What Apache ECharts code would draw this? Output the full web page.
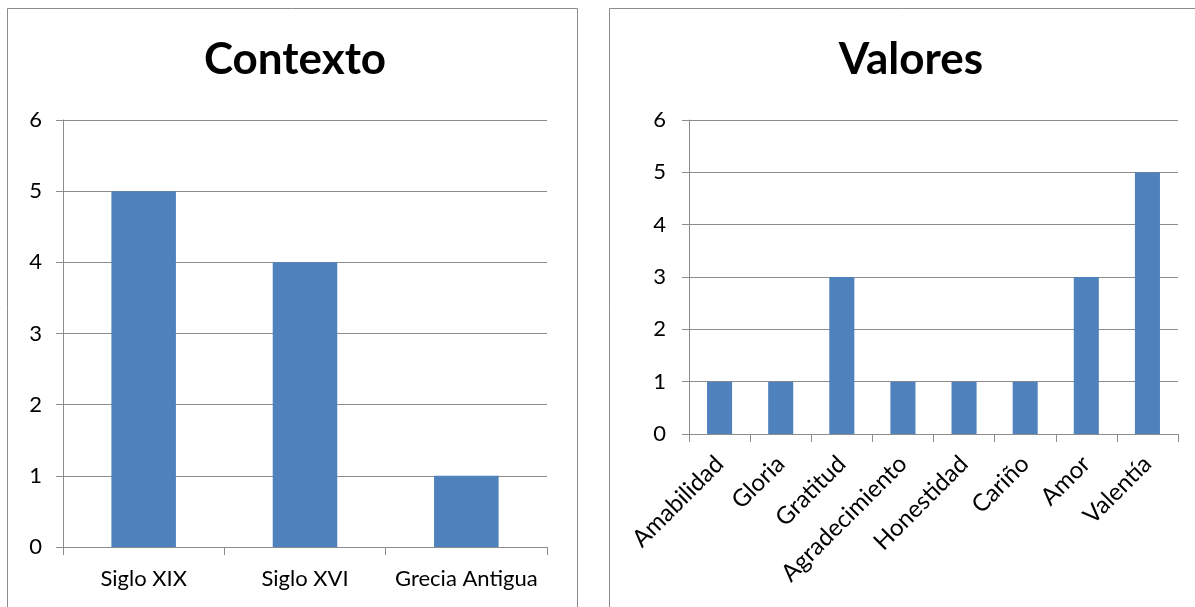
<!DOCTYPE html>
<html>
<head>
<meta charset="utf-8">
<script src="https://cdn.jsdelivr.net/npm/echarts@6/dist/echarts.min.js"></script>
<style>
  html, body { margin: 0; padding: 0; background: #fff; }
  #chart { width: 1195px; height: 607px; }
</style>
</head>
<body>
<div id="chart"></div>
<script>
  // datos del gráfico
  var contextoCategorias = ['Siglo XIX', 'Siglo XVI', 'Grecia Antigua'];
  var contextoValores = [5, 4, 1];
  var valoresCategorias = ['Amabilidad', 'Gloria', 'Gratitud', 'Agradecimiento', 'Honestidad', 'Cariño', 'Amor', 'Valentía'];
  var valoresValores = [1, 1, 3, 1, 1, 1, 3, 5];

  var fuente = 'Lato, "Open Sans", sans-serif';
  var gris = '#8c8c8c';
  var azul = '#4F81BD';

  var myChart = echarts.init(document.getElementById('chart'));

  function ejeY(gridIndex, margin) {
    return {
      type: 'value', gridIndex: gridIndex, min: 0, max: 6, interval: 1,
      axisLine: { show: true, lineStyle: { color: gris, width: 1 } },
      axisTick: { show: true, length: 7, lineStyle: { color: gris } },
      splitLine: { show: true, lineStyle: { color: gris, width: 1 } },
      axisLabel: { color: '#000', fontSize: 22, fontFamily: fuente, margin: margin }
    };
  }

  myChart.setOption({
    animation: false,
    graphic: [
      { type: 'rect', shape: { x: 7.5, y: 8.5, width: 570, height: 610 }, style: { fill: 'none', stroke: gris, lineWidth: 1 } },
      { type: 'rect', shape: { x: 609.5, y: 8.5, width: 600, height: 610 }, style: { fill: 'none', stroke: gris, lineWidth: 1 } }
    ],
    title: [
      { text: 'Contexto', left: 290, top: 33, textAlign: 'center',
        textStyle: { fontSize: 44, fontWeight: 'bold', fontFamily: fuente, color: '#000' } },
      { text: 'Valores', left: 906, top: 33, textAlign: 'center',
        textStyle: { fontSize: 44, fontWeight: 'bold', fontFamily: fuente, color: '#000' } }
    ],
    grid: [
      { left: 63, right: 648, top: 120, bottom: 60 },
      { left: 689, right: 17, top: 120, bottom: 173 }
    ],
    xAxis: [
      {
        type: 'category', gridIndex: 0, data: contextoCategorias,
        axisLine: { lineStyle: { color: gris } },
        axisTick: { show: true, length: 8, lineStyle: { color: gris } },
        axisLabel: { color: '#000', fontSize: 22, fontFamily: fuente, margin: 21, interval: 0 }
      },
      {
        type: 'category', gridIndex: 1, data: valoresCategorias,
        axisLine: { lineStyle: { color: gris } },
        axisTick: { show: true, length: 8, lineStyle: { color: gris } },
        axisLabel: { color: '#000', fontSize: 24, fontFamily: fuente, margin: 26, rotate: 45, interval: 0 }
      }
    ],
    yAxis: [ejeY(0, 21), ejeY(1, 23)],
    series: [
      { type: 'bar', xAxisIndex: 0, yAxisIndex: 0, data: contextoValores, barWidth: '40%',
        itemStyle: { color: azul } },
      { type: 'bar', xAxisIndex: 1, yAxisIndex: 1, data: valoresValores, barWidth: '41%',
        itemStyle: { color: azul } }
    ]
  });
</script>
</body>
</html>
